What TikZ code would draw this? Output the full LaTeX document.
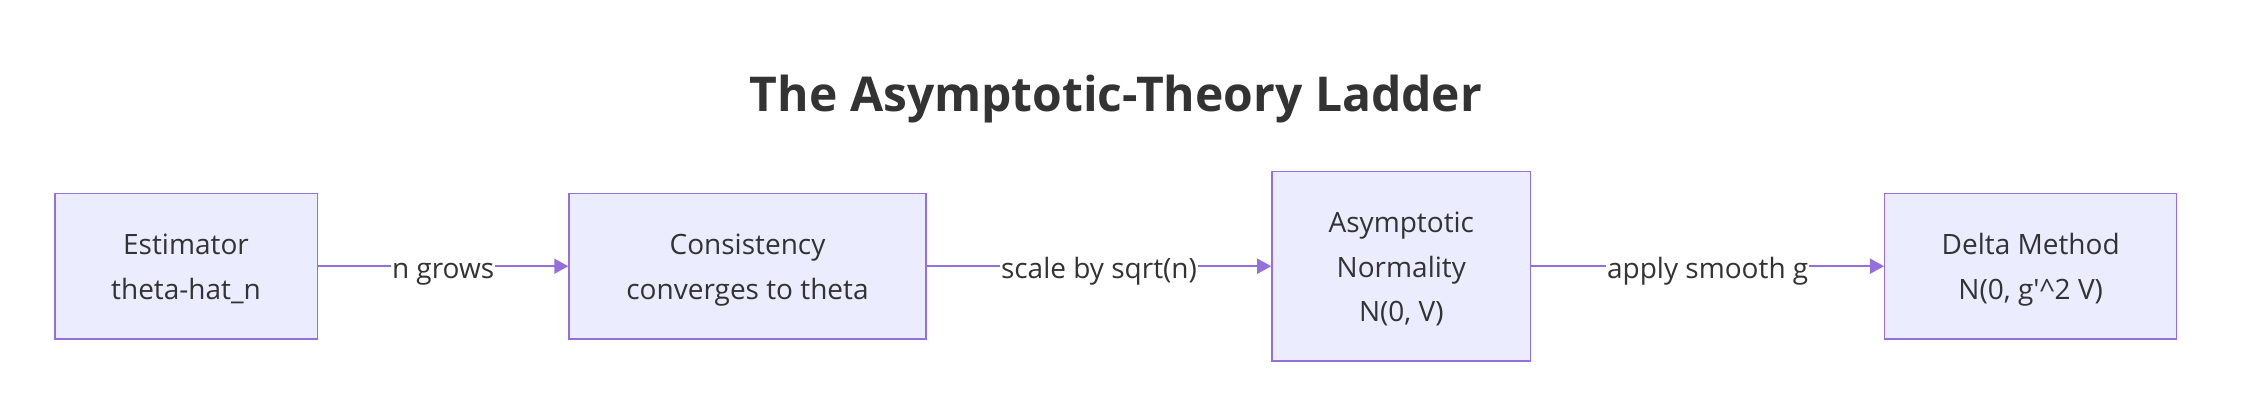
\documentclass[tikz,border=0pt]{standalone}
\usepackage{fontspec}
\setmainfont{Open Sans}
\usetikzlibrary{arrows.meta}
\definecolor{boxfill}{HTML}{ECECFF}
\definecolor{boxline}{HTML}{9370DB}
\definecolor{ink}{HTML}{333333}
\newcommand{\tup}{\rule{0pt}{30pt}}
\newcommand{\tdn}{\rule[-8.4pt]{0pt}{8.4pt}}
\tikzset{bx/.append style={draw=boxline,fill=boxfill,line width=1.5pt,inner sep=0pt,align=center,text=ink,font=\fontsize{28}{44.5}\selectfont}}
\tikzset{lb/.append style={fill=white,inner xsep=1pt,inner ysep=0pt,text height=30pt,text depth=6pt,text=ink,font=\fontsize{28}{32}\selectfont}}
\tikzset{ar/.append style={draw=boxline,line width=1.8pt,-{Triangle[length=14pt,width=15pt]}}}

\begin{document}
\begin{tikzpicture}[x=1pt,y=-1pt]
                \useasboundingbox (0,0) rectangle (2248,420);
                % title
                \node[anchor=base,text=ink,font=\fontsize{48}{54}\selectfont\bfseries] (title) at (1116,111.7) {The Asymptotic-Theory Ladder};
                % steps
                \node[bx,minimum width=262.5pt,minimum height=145.7pt] (est) at (186,266.2) {\tup Estimator\\theta-hat\_n\tdn};
                \node[bx,minimum width=357pt,minimum height=145.7pt] (cons) at (747.5,266.2) {\tup Consistency\\converges to theta\tdn};
                \node[bx,minimum width=258.7pt,minimum height=189.3pt] (asym) at (1401.3,266.2) {\tup Asymptotic\\Normality\\N(0, V)\tdn};
                \node[bx,minimum width=292pt,minimum height=145.7pt] (delta) at (2030.7,266.2) {\tup Delta Method\\N(0, g\textquotesingle\textasciicircum 2 V)\tdn};
                \path (est) edge[ar] node[lb]{n grows} (cons);
                \path (cons) edge[ar] node[lb]{scale by sqrt(n)} (asym);
                \path (asym) edge[ar] node[lb]{apply smooth g} (delta);
            \end{tikzpicture}
\end{document}
